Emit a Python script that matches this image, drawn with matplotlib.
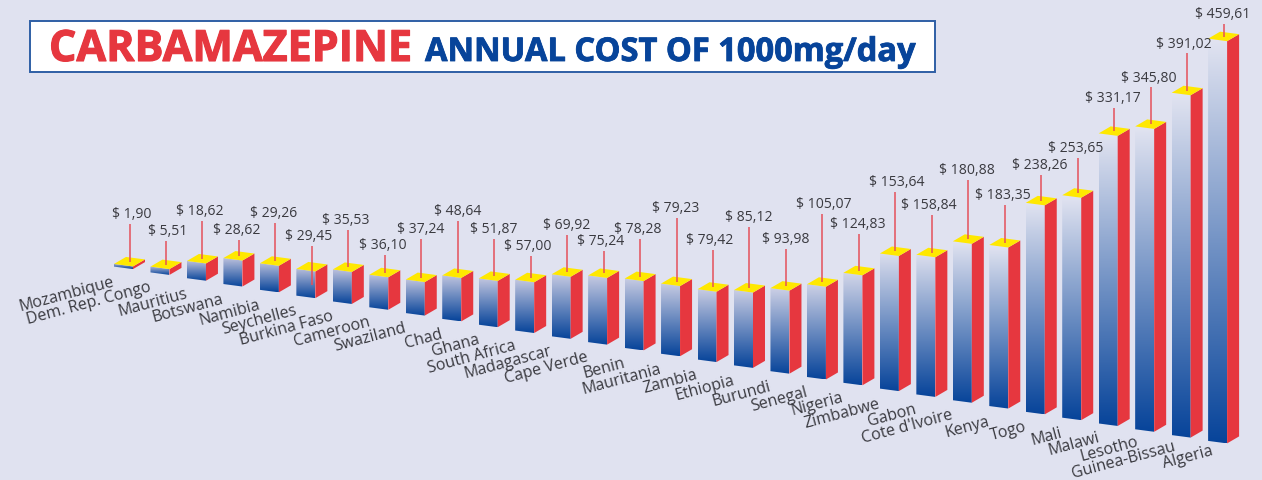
import numpy as np
import matplotlib
matplotlib.use("Agg")
import matplotlib.pyplot as plt
import matplotlib.patheffects as pe
from matplotlib.colors import LinearSegmentedColormap, to_rgb
from matplotlib.patches import Polygon, Rectangle

COUNTRIES = ["Mozambique", "Dem. Rep. Congo", "Mauritius", "Botswana", "Namibia",
             "Seychelles", "Burkina Faso", "Cameroon", "Swaziland", "Chad", "Ghana",
             "South Africa", "Madagascar", "Cape Verde", "Benin", "Mauritania",
             "Zambia", "Ethiopia", "Burundi", "Senegal", "Nigeria", "Zimbabwe",
             "Gabon", "Cote d'Ivoire", "Kenya", "Togo", "Mali", "Malawi", "Lesotho",
             "Guinea-Bissau", "Algeria"]
COSTS = [1.90, 5.51, 18.62, 28.62, 29.26, 29.45, 35.53, 36.10, 37.24, 48.64, 51.87,
         57.00, 69.92, 75.24, 78.28, 79.23, 79.42, 85.12, 93.98, 105.07, 124.83,
         153.64, 158.84, 180.88, 183.35, 238.26, 253.65, 331.17, 345.80, 391.02,
         459.61]

# 引线顶端高度（像素），标签放在引线上方
LEADER_TOPS = [225, 242, 222, 241, 224, 247, 231, 256, 240, 222, 240, 257, 236, 252,
               240, 219, 251, 228, 250, 215, 235, 193, 216, 181, 206, 176, 159, 109,
               88, 54, 25]
LABEL_DX = [2, 2, -3, -2, -2, -3, -3, -2, -1, 0, 0, -3, -1, -3, -2, -1, -3, -1, 0, 1,
            -1, 1, -3, -1, -2, -1, -2, -1, -2, -3, -1]

BG = "#e0e2f0"
RED = "#e6373f"
YELLOW = "#ffe800"
NAVY = "#07449a"
INK = "#3a3a40"

BAR_W, BAR_SLOPE = 19, 2.5
DEPTH_X, DEPTH_Y = 12, -7
X0, X_STEP = 114, 36.47
Y0, Y_STEP = 267.6, 5.81
PX_PER_USD = 0.873

plt.rcParams["font.family"] = ["Open Sans", "DejaVu Sans"]

fig = plt.figure(figsize=(12.62, 4.81), dpi=100, facecolor=BG)
ax = fig.add_axes([0, 0, 1, 1])
ax.axis("off")

# 顶部细线
ax.add_patch(Rectangle((0, 0), 1262, 1, fc="#e8707c", ec="none"))

for i, (name, cost) in enumerate(zip(COUNTRIES, COSTS)):
    x = X0 + i * X_STEP
    yb = Y0 + i * Y_STEP
    h = cost * PX_PER_USD + 1
    yt = yb - h

    # 正面渐变，矮柱顶部颜色更深
    mix = min(h / 160, 1)
    top = np.array(to_rgb("#b4b9d8")) * (1 - mix) + np.array(to_rgb("#e2e4f1")) * mix
    cmap = LinearSegmentedColormap.from_list("face", [top, NAVY])
    front = Polygon([(x, yb), (x + BAR_W, yb + BAR_SLOPE), (x + BAR_W, yt + BAR_SLOPE), (x, yt)],
                    closed=True, transform=ax.transData, fc="none", ec="none")
    ax.add_patch(front)
    im = ax.imshow(np.linspace(0, 1, 256).reshape(-1, 1), cmap=cmap, aspect="auto",
                   extent=(x, x + BAR_W, yb + BAR_SLOPE, yt), zorder=2)
    im.set_clip_path(front)

    # 侧面和顶面
    ax.add_patch(Polygon([(x + BAR_W, yb + BAR_SLOPE), (x + BAR_W + DEPTH_X, yb + BAR_SLOPE + DEPTH_Y),
                          (x + BAR_W + DEPTH_X, yt + BAR_SLOPE + DEPTH_Y), (x + BAR_W, yt + BAR_SLOPE)],
                         fc=RED, ec="none", zorder=2))
    ax.add_patch(Polygon([(x, yt), (x + BAR_W, yt + BAR_SLOPE),
                          (x + BAR_W + DEPTH_X, yt + BAR_SLOPE + DEPTH_Y), (x + DEPTH_X, yt + DEPTH_Y)],
                         fc=YELLOW, ec="none", zorder=3))

    # 引线，Seychelles 那根穿过柱子
    lx = x + (BAR_W + DEPTH_X) / 2
    y_end = yt - 2
    if name == "Seychelles":
        y_end = 286
    ax.plot([lx, lx], [LEADER_TOPS[i], y_end], color="#e4505a", lw=1.1, zorder=4,
            solid_capstyle="butt")

    ax.text(lx + LABEL_DX[i], LEADER_TOPS[i] - 10, "$ " + f"{cost:.2f}".replace(".", ","),
            ha="center", va="center", fontsize=10.1, color=INK, zorder=5)
    # 最后几个标签略微右移上移，避免贴底
    nudge = max(0, i - 26) * 1.2
    ax.text(x + nudge, yb + 14 - nudge, name, rotation=15, rotation_mode="anchor", ha="right", va="center",
            fontsize=11.5, color=INK, zorder=5)

# 标题框
ax.add_patch(Rectangle((29.5, 21.5), 905, 51, fc="white", ec="#2f5fa5", lw=1.4, zorder=6))
heavy = [pe.withStroke(linewidth=0.8, foreground=RED)]
ax.text(49, 62, "CARBAMAZEPINE", fontsize=31, fontweight="bold", color=RED,
        ha="left", va="baseline", zorder=7, path_effects=heavy)
heavy = [pe.withStroke(linewidth=0.6, foreground=NAVY)]
ax.text(425, 62, "ANNUAL COST OF 1000mg/day", fontsize=23.5, fontweight="bold", color=NAVY,
        ha="left", va="baseline", zorder=7, path_effects=heavy)

ax.set_xlim(0, 1262)
ax.set_ylim(481, 0)

fig.savefig("out.png", dpi=100, facecolor=BG)
